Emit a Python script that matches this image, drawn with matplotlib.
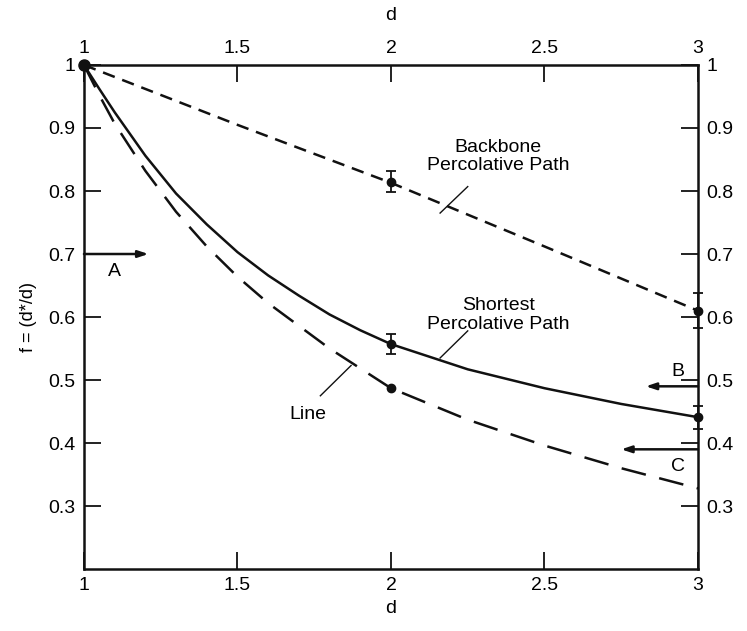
import matplotlib

matplotlib.use("Agg")
import matplotlib.pyplot as plt

plt.rcParams["font.family"] = ["Liberation Sans", "DejaVu Sans"]

# curves
backbone_d = [1.0, 1.5, 2.0, 2.5, 3.0]
backbone_f = [1.0, 0.905, 0.813, 0.712, 0.61]

shortest_d = [1.0, 1.05, 1.1, 1.2, 1.3, 1.4, 1.5, 1.6, 1.7, 1.8, 1.9, 2.0,
              2.25, 2.5, 2.75, 3.0]
shortest_f = [1.0, 0.962, 0.925, 0.856, 0.796, 0.747, 0.703, 0.666, 0.634,
              0.604, 0.579, 0.557, 0.517, 0.487, 0.462, 0.441]

line_d = [1.0, 1.05, 1.1, 1.2, 1.3, 1.4, 1.5, 1.6, 1.8, 2.0, 2.25, 2.5, 2.75, 3.0]
line_f = [1.0, 0.952, 0.907, 0.832, 0.767, 0.712, 0.664, 0.622, 0.55, 0.487,
          0.437, 0.396, 0.36, 0.328]

# data points with error bars
pts_d = [2.0, 2.0, 3.0, 3.0]
pts_f = [0.815, 0.557, 0.61, 0.441]
pts_err = [0.017, 0.016, 0.028, 0.018]
line_pt_d = [2.0]
line_pt_f = [0.487]

# limit arrows: (label, y, x_start, x_end)
arrows = [("A", 0.70, 1.0, 1.21), ("B", 0.49, 3.0, 2.83), ("C", 0.39, 3.0, 2.75)]

ticks_x = [1, 1.5, 2, 2.5, 3]
ticks_y = [0.3, 0.4, 0.5, 0.6, 0.7, 0.8, 0.9, 1.0]
ticklabels_x = ["1", "1.5", "2", "2.5", "3"]
ticklabels_y = ["0.3", "0.4", "0.5", "0.6", "0.7", "0.8", "0.9", "1"]

fig = plt.figure(figsize=(7.47, 6.31), dpi=100)
ax = fig.add_axes([0.1124, 0.0982, 0.8220, 0.7988])

k = "#111111"
ax.plot(backbone_d, backbone_f, color=k, lw=1.8, dashes=(5, 3.2))
ax.plot(shortest_d, shortest_f, color=k, lw=1.8)
ax.plot(line_d, line_f, color=k, lw=1.8, dashes=(10, 5.5))

ax.errorbar(pts_d, pts_f, yerr=pts_err, fmt="o", color=k, ms=6, capsize=3.5,
            elinewidth=1.3, capthick=1.3, clip_on=False, zorder=5)
ax.plot(line_pt_d, line_pt_f, "o", color=k, ms=6, zorder=5)
ax.plot([1.0], [1.0], "o", color=k, ms=8, clip_on=False, zorder=6)

for lab, y, x0, x1 in arrows:
    ax.annotate("", xy=(x1, y), xytext=(x0, y),
                arrowprops=dict(arrowstyle="-|>,head_length=0.6,head_width=0.2",
                                color=k, lw=1.8, shrinkA=0, shrinkB=0))
ax.text(1.1, 0.672, "A", fontsize=14, ha="center", va="center")
ax.text(2.935, 0.513, "B", fontsize=14, ha="center", va="center")
ax.text(2.935, 0.363, "C", fontsize=14, ha="center", va="center")

ax.text(2.35, 0.855, "Backbone\nPercolative Path", fontsize=14, ha="center",
        va="center", linespacing=1.1)
ax.plot([2.25, 2.16], [0.807, 0.765], color=k, lw=1.0)
ax.text(2.35, 0.603, "Shortest\nPercolative Path", fontsize=14, ha="center",
        va="center", linespacing=1.1)
ax.plot([2.25, 2.16], [0.578, 0.535], color=k, lw=1.0)
ax.text(1.73, 0.446, "Line", fontsize=14, ha="center", va="center")
ax.plot([1.77, 1.87], [0.475, 0.523], color=k, lw=1.0)

ax.set_xlim(1, 3)
ax.set_ylim(0.2, 1.0)
ax.set_xticks(ticks_x, ticklabels_x)
ax.set_yticks(ticks_y, ticklabels_y)
ax.tick_params(direction="in", length=12, width=1.3, labelsize=14, top=True,
               right=True, labeltop=True, labelright=True, pad=6, color=k)
for s in ax.spines.values():
    s.set_linewidth(1.8)
    s.set_color(k)

ax.set_xlabel("d", fontsize=14, labelpad=4)
ax.set_ylabel("f = (d*/d)", fontsize=13, labelpad=8)
fig.text(0.523, 0.975, "d", fontsize=14, ha="center", va="center")

fig.savefig("out.png", dpi=100)
